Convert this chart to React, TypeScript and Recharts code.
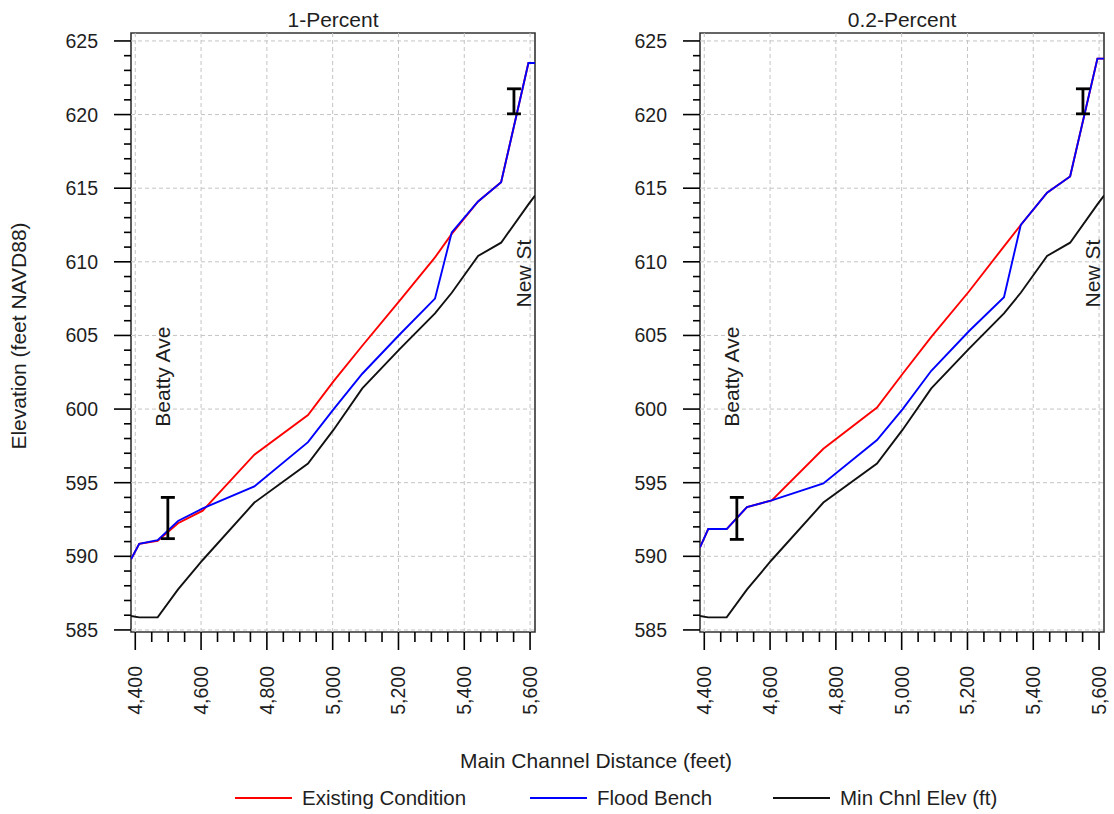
import React from 'react';
import {
  ComposedChart,
  Line,
  Scatter,
  ErrorBar,
  XAxis,
  YAxis,
  ReferenceLine,
  ReferenceArea,
  ReferenceDot,
} from 'recharts';

// Main channel stations (feet) shared by every profile
const stations = [4387, 4412, 4468, 4530, 4605, 4762, 4925, 5003, 5090, 5205, 5311, 5362, 5442, 5512, 5595, 5615];

// Minimum channel elevation (feet NAVD88)
const minChnlElev = [585.95, 585.85, 585.85, 587.75, 589.75, 593.65, 596.3, 598.6, 601.4, 604.1, 606.5, 607.9, 610.4, 611.3, 613.9, 614.5];

// 1-percent water surface profiles
const onePctExisting = [589.8, 590.85, 591.05, 592.25, 593.1, 596.9, 599.6, 601.9, 604.3, 607.4, 610.3, 611.9, 614.1, 615.4, 623.5, 623.5];
const onePctBench = [589.8, 590.85, 591.1, 592.4, 593.25, 594.75, 597.75, 600.0, 602.4, 605.1, 607.5, 612.0, 614.1, 615.4, 623.5, 623.5];

// 0.2-percent water surface profiles
const pt2PctExisting = [590.6, 591.85, 591.85, 593.35, 593.8, 597.3, 600.1, 602.4, 604.9, 608.0, 611.05, 612.5, 614.7, 615.8, 623.8, 623.8];
const pt2PctBench = [590.6, 591.85, 591.85, 593.35, 593.8, 594.95, 597.9, 600.0, 602.6, 605.3, 607.6, 612.5, 614.7, 615.8, 623.8, 623.8];

// Observed high-water ranges at the two gauges
const gaugeStations = [4499, 5551];
const onePctGaugeLow = [591.2, 620.05];
const onePctGaugeHigh = [594.0, 621.75];
const pt2PctGaugeLow = [591.15, 620.05];
const pt2PctGaugeHigh = [594.0, 621.75];

// Road crossings
const roadNames = ['Beatty Ave', 'New St'];
const roadStations = [4482, 5579];
const roadElevations = [602.2, 609.2];

// Axis ticks
const xMajorTicks = [4400, 4600, 4800, 5000, 5200, 5400, 5600];
const yMajorTicks = [585, 590, 595, 600, 605, 610, 615, 620, 625];
const xMinorStep = 50;
const yMinorStep = 1;

const X_DOMAIN: [number, number] = [4387, 5615];
const Y_DOMAIN: [number, number] = [584.86, 625.54];

const FONT = '"Liberation Sans", Arial, Helvetica, sans-serif';
const TEXT = '#1e1e1e';

const xTicks: number[] = [];
for (let v = xMajorTicks[0]; v <= xMajorTicks[xMajorTicks.length - 1]; v += xMinorStep) xTicks.push(v);
const yTicks: number[] = [];
for (let v = yMajorTicks[0]; v <= yMajorTicks[yMajorTicks.length - 1]; v += yMinorStep) yTicks.push(v);

const XTick = (props: any) => {
  const { x, y, payload } = props;
  const v = payload.value;
  const major = xMajorTicks.includes(v);
  const ly = y + 34;
  return (
    <g>
      <line x1={x} x2={x} y1={y} y2={y + (major ? 18 : 10)} stroke="#000" strokeWidth={1.6} />
      {major && (
        <text
          x={x}
          y={ly}
          transform={`rotate(-90 ${x} ${ly})`}
          textAnchor="end"
          dy="0.36em"
          fontSize={19.5}
          fontFamily={FONT}
          fill={TEXT}
        >
          {v.toLocaleString('en-US')}
        </text>
      )}
    </g>
  );
};

const YTick = (props: any) => {
  const { x, y, payload } = props;
  const v = payload.value;
  const major = yMajorTicks.includes(v);
  return (
    <g>
      <line x1={x - (major ? 17 : 7)} x2={x} y1={y} y2={y} stroke="#000" strokeWidth={1.6} />
      {major && (
        <text x={x - 33} y={y} dy="0.36em" textAnchor="end" fontSize={19.5} fontFamily={FONT} fill={TEXT}>
          {v}
        </text>
      )}
    </g>
  );
};

type PanelProps = {
  existing: number[];
  bench: number[];
  gaugeLow: number[];
  gaugeHigh: number[];
  left: number;
  width: number;
  marginLeft: number;
  marginRight: number;
};

function Panel({ existing, bench, gaugeLow, gaugeHigh, left, width, marginLeft, marginRight }: PanelProps) {
  const toPoints = (vals: number[]) => stations.map((x, i) => ({ x, y: vals[i] }));
  const gauges = gaugeStations.map((x, i) => ({
    x,
    y: (gaugeLow[i] + gaugeHigh[i]) / 2,
    err: (gaugeHigh[i] - gaugeLow[i]) / 2,
  }));

  return (
    <div style={{ position: 'absolute', left, top: 0 }}>
      <ComposedChart
        width={width}
        height={720}
        margin={{ top: 33, right: marginRight, bottom: 3, left: marginLeft }}
      >
        <XAxis
          dataKey="x"
          type="number"
          domain={X_DOMAIN}
          allowDataOverflow
          ticks={xTicks}
          interval={0}
          tick={<XTick />}
          tickLine={false}
          tickSize={0}
          tickMargin={0}
          axisLine={false}
          height={85}
        />
        <YAxis
          type="number"
          domain={Y_DOMAIN}
          allowDataOverflow
          ticks={yTicks}
          interval={0}
          tick={<YTick />}
          tickLine={false}
          tickSize={0}
          tickMargin={0}
          axisLine={false}
          width={70}
        />

        {xMajorTicks.map((v) => (
          <ReferenceLine key={`gx${v}`} x={v} stroke="#c4c4c4" strokeWidth={1} strokeDasharray="4 3" />
        ))}
        {yMajorTicks.map((v) => (
          <ReferenceLine key={`gy${v}`} y={v} stroke="#c4c4c4" strokeWidth={1} strokeDasharray="4 3" />
        ))}

        <Line data={toPoints(minChnlElev)} dataKey="y" type="linear" stroke="#111" strokeWidth={1.9} dot={false} activeDot={false} isAnimationActive={false} />
        <Line data={toPoints(existing)} dataKey="y" type="linear" stroke="#ff0000" strokeWidth={1.9} dot={false} activeDot={false} isAnimationActive={false} />
        <Line data={toPoints(bench)} dataKey="y" type="linear" stroke="#0000ff" strokeWidth={1.9} dot={false} activeDot={false} isAnimationActive={false} />

        <Scatter data={gauges} dataKey="y" shape={() => <g />} isAnimationActive={false}>
          <ErrorBar dataKey="err" direction="y" width={7} stroke="#000" strokeWidth={2.8} isAnimationActive={false} />
        </Scatter>

        {roadNames.map((name, i) => (
          <ReferenceDot
            key={name}
            x={roadStations[i]}
            y={roadElevations[i]}
            r={0}
            ifOverflow="visible"
            shape={(p: any) => (
              <text
                x={p.cx}
                y={p.cy}
                transform={`rotate(-90 ${p.cx} ${p.cy})`}
                textAnchor="middle"
                dy="0.36em"
                fontSize={21}
                fontFamily={FONT}
                fill={TEXT}
              >
                {name}
              </text>
            )}
          />
        ))}

        <ReferenceArea
          x1={X_DOMAIN[0]}
          x2={X_DOMAIN[1]}
          y1={Y_DOMAIN[0]}
          y2={Y_DOMAIN[1]}
          fill="none"
          fillOpacity={0}
          stroke="#333"
          strokeWidth={1.6}
          ifOverflow="visible"
        />
      </ComposedChart>
    </div>
  );
}

const legendItems = [
  { label: 'Existing Condition', color: '#ff0000', x: 235 },
  { label: 'Flood Bench', color: '#0000ff', x: 530 },
  { label: 'Min Chnl Elev (ft)', color: '#111', x: 773 },
];

export default function App() {
  return (
    <div style={{ position: 'absolute', left: 0, top: 0, width: 1114, height: 814, background: '#fff', fontFamily: FONT }}>
      <Panel
        existing={onePctExisting}
        bench={onePctBench}
        gaugeLow={onePctGaugeLow}
        gaugeHigh={onePctGaugeHigh}
        left={0}
        width={560}
        marginLeft={61}
        marginRight={25}
      />
      <Panel
        existing={pt2PctExisting}
        bench={pt2PctBench}
        gaugeLow={pt2PctGaugeLow}
        gaugeHigh={pt2PctGaugeHigh}
        left={560}
        width={554}
        marginLeft={70}
        marginRight={10}
      />
      <svg
        width={1114}
        height={814}
        style={{ position: 'absolute', left: 0, top: 0, pointerEvents: 'none' }}
      >
        <g fontFamily={FONT} fill={TEXT}>
          <text x={333} y={27} textAnchor="middle" fontSize={21}>1-Percent</text>
          <text x={902} y={27} textAnchor="middle" fontSize={21}>0.2-Percent</text>
          <text x={26} y={336} textAnchor="middle" fontSize={21} transform="rotate(-90 26 336)">
            Elevation (feet NAVD88)
          </text>
          <text x={596} y={768} textAnchor="middle" fontSize={21}>Main Channel Distance (feet)</text>
          {legendItems.map((it) => (
            <g key={it.label}>
              <line x1={it.x} x2={it.x + 57} y1={798} y2={798} stroke={it.color} strokeWidth={2} />
              <text x={it.x + 67} y={798} dy="0.36em" fontSize={20.5}>
                {it.label}
              </text>
            </g>
          ))}
        </g>
      </svg>
    </div>
  );
}
